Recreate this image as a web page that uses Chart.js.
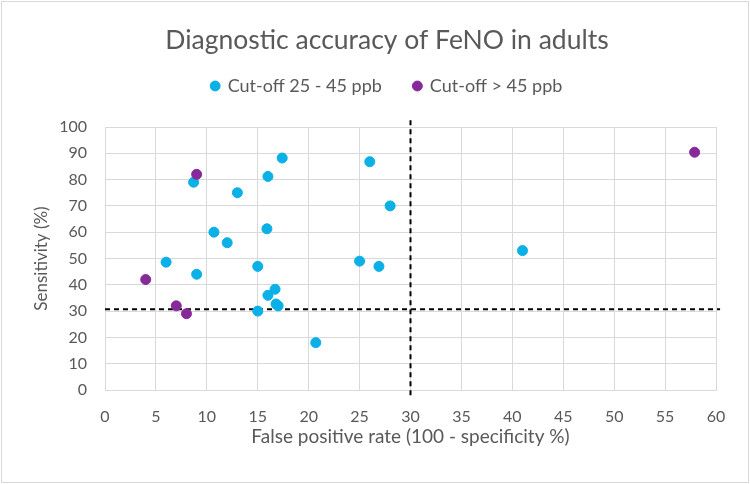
<!DOCTYPE html>
<html>
<head>
<meta charset="utf-8">
<script src="https://cdn.jsdelivr.net/npm/chart.js@4.4.0/dist/chart.umd.min.js"></script>
<style>
  body { margin: 0; background: #fff; }
</style>
</head>
<body>
<canvas id="myChart" width="750" height="484"></canvas>
<script>
/*---------------------------- data ------------------------------------*/
// false positive rate (x) and sensitivity (y)
var lowX = [17.4, 26, 16, 8.7, 13, 28, 15.9, 10.7, 12, 6, 15, 25, 26.9, 9, 16.7, 16, 16.8, 17, 15, 20.7, 41];
var lowY = [88.2, 86.8, 81.2, 79, 75, 70, 61.3, 60, 56, 48.6, 47, 49, 47, 44, 38.3, 36, 32.7, 32, 30, 18, 53];
var highX = [9, 4, 7, 8, 57.9];
var highY = [82, 42, 32, 29, 90.4];

// dashed reference lines
var cutX = [30, 30];
var cutXY = [-2, 102.7];
var cutYX = [0, 60.4];
var cutY = [30.7, 30.7];

var xTicks = { min: 0, max: 60, step: 5 };
var yTicks = { min: 0, max: 100, step: 10 };

function pts(xs, ys) {
  return xs.map(function (x, i) { return { x: x, y: ys[i] }; });
}

var grey = "#595959";
var gridCol = "#d9d9d9";
var fam = "Lato";

var border = {
  id: "border",
  beforeDraw: function (chart) {
    var c = chart.ctx;
    c.save();
    c.fillStyle = "#fff";
    c.fillRect(0, 0, chart.width, chart.height);
    c.strokeStyle = gridCol;
    c.lineWidth = 1;
    c.strokeRect(1.5, 1.5, chart.width - 3, chart.height - 3);
    c.restore();
  }
};

new Chart("myChart", {
  type: "scatter",
  data: {
    datasets: [{
      label: "Cut-off 25 - 45 ppb",
      data: pts(lowX, lowY),
      backgroundColor: "#0ab0e6",
      borderColor: "#0ab0e6",
      pointRadius: 5,
      xAxisID: "x",
      order: 1
    }, {
      label: "Cut-off > 45 ppb",
      data: pts(highX, highY),
      backgroundColor: "#862a99",
      borderColor: "#862a99",
      pointRadius: 5,
      xAxisID: "x",
      order: 0
    }, {
      label: "v",
      data: pts(cutX, cutXY),
      showLine: true,
      borderColor: "#000",
      borderWidth: 2,
      borderDash: [5, 4],
      pointRadius: 0,
      clip: false,
      xAxisID: "x",
      order: 2
    }, {
      label: "h",
      data: pts(cutYX, cutY),
      showLine: true,
      borderColor: "#000",
      borderWidth: 2,
      borderDash: [5, 4],
      pointRadius: 0,
      clip: false,
      xAxisID: "x",
      order: 2
    }]
  },
  options: {
    responsive: false,
    animation: false,
    devicePixelRatio: 1,
    layout: { padding: { left: 58, right: 34, top: 0, bottom: 0 } },
    plugins: {
      title: {
        display: true,
        text: "Diagnostic accuracy of FeNO in adults",
        color: grey,
        font: { family: fam, size: 26.5, weight: "normal" },
        padding: { top: 25, bottom: -11.8 }
      },
      legend: {
        display: true,
        labels: {
          color: grey,
          font: { family: fam, size: 18 },
          usePointStyle: true,
          pointStyle: "circle",
          boxWidth: 7,
          boxHeight: 7,
          padding: 32,
          filter: function (item) { return item.datasetIndex < 2; },
          sort: function (a, b) { return a.datasetIndex - b.datasetIndex; }
        }
      },
      tooltip: { enabled: false }
    },
    scales: {
      x: {
        type: "linear",
        position: "bottom",
        min: xTicks.min,
        max: xTicks.max,
        ticks: { stepSize: xTicks.step, color: grey, font: { family: fam, size: 16 }, padding: 17.5 },
        grid: { color: gridCol, drawTicks: false },
        border: { color: gridCol },
        title: {
          display: true,
          text: "False positive rate (100 - specificity %)",
          color: grey,
          font: { family: fam, size: 19 },
          padding: { top: 0, bottom: 35.6 }
        },
        afterFit: function (s) { s.height = 94; }
      },
      // empty band between the legend and the plot
      xTop: {
        type: "linear",
        axis: "x",
        position: "top",
        grid: { display: false },
        border: { display: false },
        ticks: { display: false },
        afterFit: function (s) { s.height = 22; }
      },
      y: {
        min: yTicks.min,
        max: yTicks.max,
        ticks: { stepSize: yTicks.step, color: grey, font: { family: fam, size: 16 }, padding: 18 },
        grid: { color: gridCol, drawTicks: false },
        border: { color: gridCol },
        title: {
          display: true,
          text: "Sensitivity (%)",
          color: grey,
          font: { family: fam, size: 17 },
          padding: { top: -26.2, bottom: 0 }
        },
        afterFit: function (s) { s.width = 47; }
      }
    }
  },
  plugins: [border]
});
</script>
</body>
</html>
